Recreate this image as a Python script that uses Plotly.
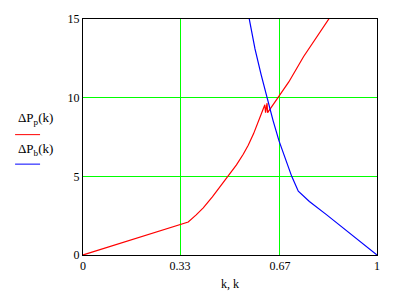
import plotly.graph_objects as go

# Red curve: ΔPp(k)
k_p = [0.0, 0.33, 0.345, 0.358, 0.385, 0.409, 0.44, 0.466, 0.494, 0.522, 0.545, 0.562, 0.58, 0.596,
       0.6185, 0.621, 0.626, 0.628, 0.664, 0.70, 0.75, 0.80, 0.845]
dP_p = [0.0, 1.95, 2.0, 2.1, 2.55, 3.0, 3.7, 4.35, 5.0, 5.73, 6.4, 6.98, 7.7, 8.44,
        9.55, 9.05, 9.65, 9.05, 10.0, 11.0, 12.6, 14.0, 15.25]

# Blue curve: ΔPb(k)
k_b = [0.544, 0.5646, 0.585, 0.6054, 0.6259, 0.6463, 0.6667, 0.6871, 0.7099, 0.7323,
       0.77, 0.829, 0.885, 0.942, 1.0]
dP_b = [17.1, 15.0, 13.1, 11.5, 10.0, 8.56, 7.25, 6.12, 5.0, 4.06,
        3.4, 2.55, 1.7, 0.88, 0.0]

x_ticks = [0, 0.33, 0.67, 1]
x_tick_text = ["0", "0.33", "0.67", "1"]
y_ticks = [0, 5, 10, 15]

FONT = "Liberation Serif"
GREEN = "#00FF00"

fig = go.Figure()
fig.add_trace(go.Scatter(x=k_p, y=dP_p, mode="lines", line=dict(color="#FF0000", width=1.2), showlegend=False))
fig.add_trace(go.Scatter(x=k_b, y=dP_b, mode="lines", line=dict(color="#0000FF", width=1.2), showlegend=False))

fig.update_layout(
    width=397, height=292,
    margin=dict(l=83, r=20, t=15, b=37),
    paper_bgcolor="white", plot_bgcolor="white",
    font=dict(family=FONT, size=12, color="black"),
    xaxis=dict(range=[0, 1], tickvals=x_ticks, ticktext=x_tick_text,
               showgrid=True, gridcolor=GREEN, gridwidth=1, zeroline=False,
               showline=True, linecolor="black", linewidth=1, mirror=True, ticks="",
               tickfont=dict(family=FONT, size=12)),
    yaxis=dict(range=[0, 15], tickvals=y_ticks,
               showgrid=True, gridcolor=GREEN, gridwidth=1, zeroline=False,
               showline=True, linecolor="black", linewidth=1, mirror=True, ticks="",
               tickfont=dict(family=FONT, size=12)),
)

fig.add_annotation(text="k, k", xref="paper", yref="paper", x=0.5, y=-0.121,
                   showarrow=False, yanchor="middle", font=dict(family=FONT, size=12))
fig.add_annotation(text="ΔP<sub>p</sub>(k)", xref="paper", yref="paper", x=-0.163, y=0.58,
                   showarrow=False, xanchor="center", yanchor="middle", font=dict(family=FONT, size=13))
fig.add_annotation(text="ΔP<sub>b</sub>(k)", xref="paper", yref="paper", x=-0.163, y=0.445,
                   showarrow=False, xanchor="center", yanchor="middle", font=dict(family=FONT, size=13))
fig.add_shape(type="line", xref="paper", yref="paper", x0=-0.231, x1=-0.146, y0=0.51, y1=0.51,
              line=dict(color="#FF0000", width=1))
fig.add_shape(type="line", xref="paper", yref="paper", x0=-0.231, x1=-0.146, y0=0.385, y1=0.385,
              line=dict(color="#0000FF", width=1))

fig.write_html("out.html")
